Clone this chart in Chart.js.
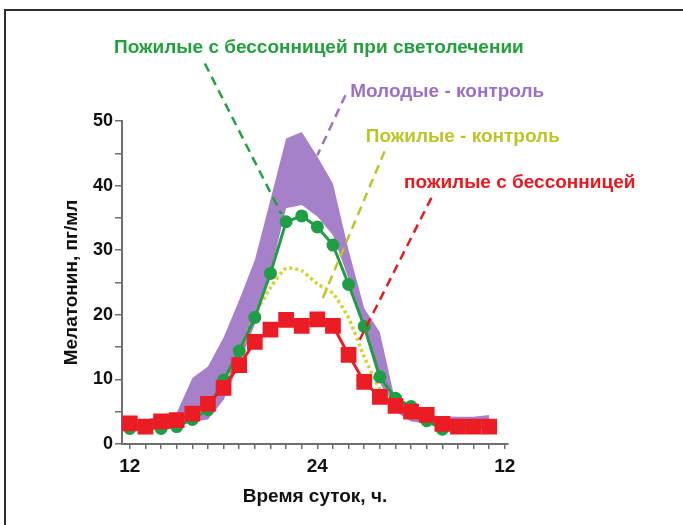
<!DOCTYPE html>
<html>
<head>
<meta charset="utf-8">
<script src="https://cdn.jsdelivr.net/npm/chart.js@4.4.1/dist/chart.umd.min.js"></script>
<style>
  html, body { margin: 0; padding: 0; background: #fff; }
  #wrap { position: relative; width: 683px; height: 525px; overflow: hidden; }
  #frame { position: absolute; left: 4px; top: 9px; width: 900px; height: 900px;
           border: 2px solid #2e2e2e; box-sizing: border-box; }
  canvas { position: absolute; left: 0; top: 0; }
</style>
</head>
<body>
<div id="wrap">
  <div id="frame"></div>
  <canvas id="chart" width="683" height="525"></canvas>
</div>
<script>
// Clock hours, noon to noon (24 = midnight)
const hours = [12, 13, 14, 15, 16, 17, 18, 19, 20, 21, 22, 23, 24, 25, 26, 27, 28, 29, 30, 31, 32, 33, 34, 35];

// Melatonin, pg/ml
const youngUpper      = [3.5, 3.8, 4.3, 4.8, 10.2, 12.0, 16.5, 22.3, 28.5, 37.8, 47.3, 48.3, 44.5, 40.3, 30.0, 21.0, 17.3, 6.5, 4.8, 4.5, 4.3, 4.2, 4.2, 4.5];
const youngLower      = [2.8, 3.0, 3.2, 3.3, 3.4, 3.8, 6.8, 12.5, 18.5, 26.5, 36.5, 37.0, 35.2, 32.3, 25.5, 17.5, 9.5, 5.0, 3.5, 3.2, 3.0, 3.0, 3.0, 3.2];
const elderlyControl  = [3.0, 2.8, 3.2, 3.3, 4.2, 5.6, 9.5, 14.0, 20.0, 24.2, 27.2, 26.8, 24.8, 23.3, 19.5, 13.5, 8.5, 6.2, 5.0, 4.2, 3.3, 2.8, 2.8, 2.8];
const insomniaLight   = [2.4, 2.5, 2.4, 2.7, 3.8, 5.3, 9.9, 14.4, 19.6, 26.4, 34.4, 35.3, 33.6, 30.8, 24.7, 18.2, 10.4, 7.1, 5.8, 3.6, 2.3, 2.6, 2.6, 2.6];
const insomnia        = [3.2, 2.7, 3.5, 3.7, 4.7, 6.2, 8.7, 12.2, 15.8, 17.7, 19.2, 18.3, 19.3, 18.3, 13.8, 9.6, 7.3, 5.9, 5.0, 4.5, 3.1, 2.7, 2.7, 2.7];

// Axis ticks
const xTickHours  = [12, 13, 14, 15, 16, 17, 18, 19, 20, 21, 22, 23, 24, 25, 26, 27, 28, 29, 30, 31, 32, 33, 34, 35, 36];
const xTickLabels = { 12: '12', 24: '24', 36: '12' };
const yTickValues = [0, 5, 10, 15, 20, 25, 30, 35, 40, 45, 50];

// Series labels with dashed pointers, in axis units (hour, pg/ml)
const callouts = [
  { text: 'Пожилые с бессонницей при светолечении', color: '#22a03e', align: 'center', at: [24.1, 61.4], from: [16.8, 58.9], to: [21.7, 35.6] },
  { text: 'Молодые - контроль',     color: '#9d70c6', align: 'left', at: [26.1, 54.5], from: [25.8, 54.0], to: [24.0, 44.7] },
  { text: 'Пожилые - контроль',     color: '#bcc526', align: 'left', at: [27.1, 47.5], from: [28.3, 45.3], to: [24.3, 22.3] },
  { text: 'пожилые с бессонницей',  color: '#e8191e', align: 'left', at: [29.55, 40.4], from: [31.3, 38.1], to: [26.7, 16.1] }
];

const FONT = "'Liberation Sans', Arial, sans-serif";
const pts = arr => hours.map((h, i) => ({ x: h, y: arr[i] }));

const leaderSets = callouts.map(c => ({
  data: [{ x: c.from[0], y: c.from[1] }, { x: c.to[0], y: c.to[1] }],
  borderColor: c.color, borderWidth: 2.5, borderDash: [9, 6],
  pointRadius: 0, clip: false, fill: false, order: 0
}));

const calloutText = {
  id: 'calloutText',
  afterDatasetsDraw(chart) {
    const { ctx, scales: { x, y } } = chart;
    ctx.save();
    ctx.font = `bold 19px ${FONT}`;
    ctx.textBaseline = 'middle';
    callouts.forEach(c => {
      ctx.fillStyle = c.color;
      ctx.textAlign = c.align;
      ctx.fillText(c.text, x.getPixelForValue(c.at[0]), y.getPixelForValue(c.at[1]));
    });
    ctx.restore();
  }
};

new Chart(document.getElementById('chart'), {
  type: 'line',
  data: {
    datasets: [
      ...leaderSets,
      { label: 'пожилые с бессонницей', data: pts(insomnia), borderColor: '#ec1c24', backgroundColor: '#ec1c24',
        borderWidth: 3, pointStyle: 'rect', pointRadius: 9, tension: 0, order: 1 },
      { label: 'Пожилые с бессонницей при светолечении', data: pts(insomniaLight), borderColor: '#1f9e45', backgroundColor: '#1f9e45',
        borderWidth: 3, pointStyle: 'circle', pointRadius: 5, tension: 0, order: 2 },
      { label: 'Пожилые - контроль', data: pts(elderlyControl), borderColor: '#d2d42c',
        borderWidth: 3.5, borderDash: [3, 3], pointRadius: 0, tension: 0.2, order: 3 },
      { label: 'Молодые - контроль', data: pts(youngUpper), borderWidth: 0, pointRadius: 0,
        backgroundColor: '#a681c9', fill: '+1', tension: 0, order: 4 },
      { label: 'Молодые - контроль (min)', data: pts(youngLower), borderWidth: 0, pointRadius: 0,
        backgroundColor: '#a681c9', fill: false, tension: 0, order: 5 }
    ]
  },
  options: {
    responsive: false,
    animation: false,
    layout: { padding: { left: 60, right: 175, top: 121, bottom: 17 } },
    plugins: { legend: { display: false }, tooltip: { enabled: false } },
    scales: {
      x: {
        type: 'linear', min: 11.5, max: 36.2,
        afterBuildTicks: s => { s.ticks = xTickHours.map(v => ({ value: v })); },
        afterFit: s => { s.height = 64; },
        ticks: { autoSkip: false, maxRotation: 0, padding: 6, color: '#111',
                 font: { family: FONT, weight: 'bold', size: 19 },
                 callback: v => xTickLabels[v] ?? '' },
        grid: { drawOnChartArea: false, tickLength: 5, color: '#6e6e6e', lineWidth: 1.5 },
        border: { color: '#6e6e6e', width: 2 },
        title: { display: true, text: 'Время суток, ч.', color: '#111', padding: 0,
                 font: { family: FONT, weight: 'bold', size: 19 } }
      },
      y: {
        min: 0, max: 50,
        afterBuildTicks: s => { s.ticks = yTickValues.map(v => ({ value: v })); },
        afterFit: s => { s.width = 62; },
        ticks: { padding: 2, color: '#111', font: { family: FONT, weight: 'bold', size: 18 },
                 callback: v => (v % 10 === 0 ? v : '') },
        grid: { drawOnChartArea: false, tickLength: 7, color: '#6e6e6e', lineWidth: 1.5 },
        border: { color: '#6e6e6e', width: 2 },
        title: { display: true, text: 'Мелатонин, пг/мл', color: '#111', padding: 0,
                 font: { family: FONT, weight: 'bold', size: 19 } }
      }
    }
  },
  plugins: [calloutText]
});
</script>
</body>
</html>
